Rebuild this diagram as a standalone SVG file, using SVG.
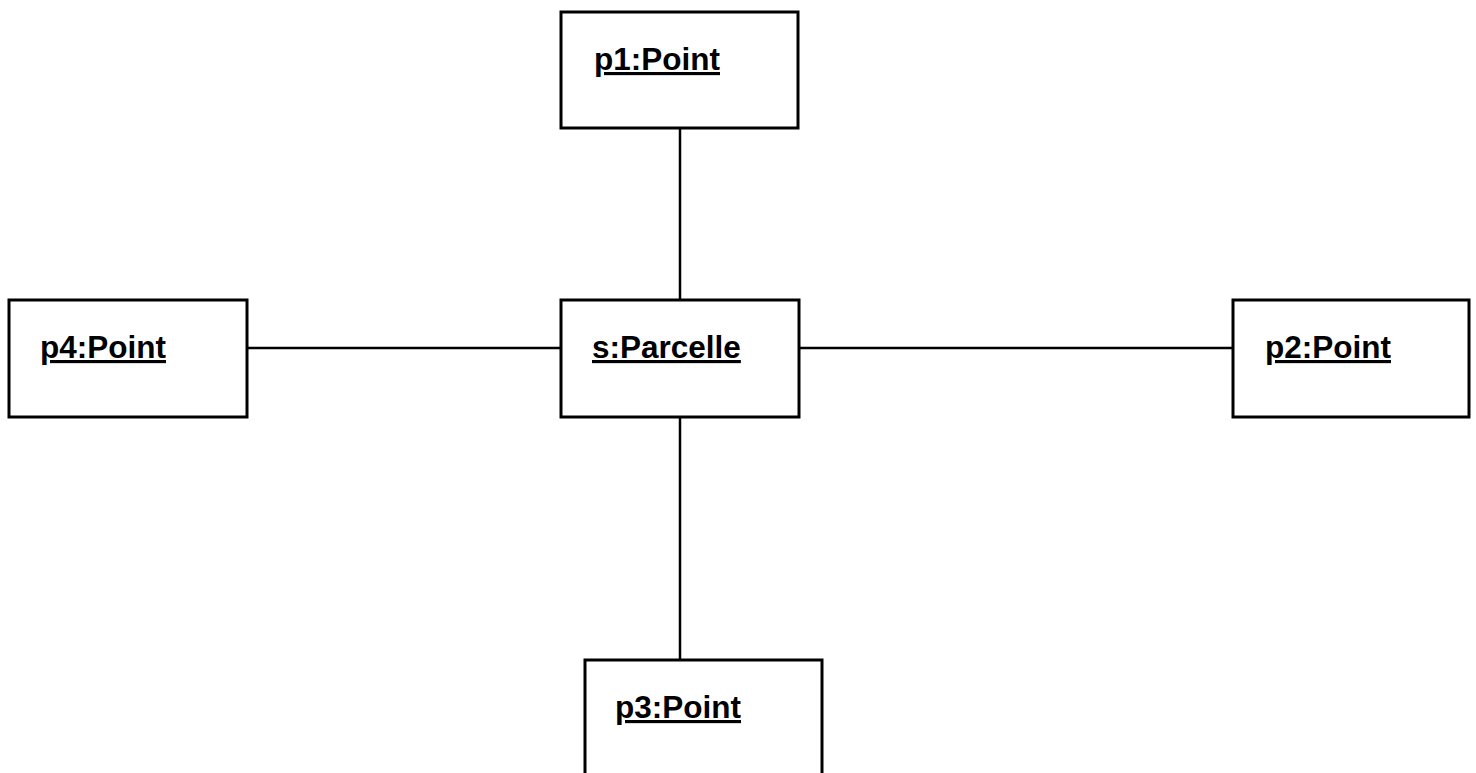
<svg xmlns="http://www.w3.org/2000/svg" width="1476" height="773" viewBox="0 0 1476 773">
  <style>
    .box { fill: #ffffff; stroke: #000000; stroke-width: 3; }
    .link { stroke: #000000; stroke-width: 2.5; fill: none; }
    .label { font-family: "Liberation Sans", Arial, sans-serif; font-weight: bold; font-size: 31.5px; fill: #000000; text-decoration: underline; }
  </style>
  <rect width="1476" height="773" fill="#ffffff"/>
  <g id="connectors">
    <line class="link" x1="680" y1="128" x2="680" y2="300"/>
    <line class="link" x1="680" y1="417" x2="680" y2="660"/>
    <line class="link" x1="247" y1="348" x2="561" y2="348"/>
    <line class="link" x1="799" y1="348" x2="1233" y2="348"/>
  </g>
  <g id="p1">
    <rect class="box" x="561" y="12" width="237" height="116"/>
    <text class="label" x="594" y="70">p1:Point</text>
  </g>
  <g id="p4">
    <rect class="box" x="9" y="300" width="238" height="117"/>
    <text class="label" x="40" y="358">p4:Point</text>
  </g>
  <g id="s">
    <rect class="box" x="561" y="300" width="238" height="117"/>
    <text class="label" x="592" y="358">s:Parcelle</text>
  </g>
  <g id="p2">
    <rect class="box" x="1233" y="300" width="236" height="117"/>
    <text class="label" x="1265" y="358">p2:Point</text>
  </g>
  <g id="p3">
    <rect class="box" x="585" y="660" width="237" height="130"/>
    <text class="label" x="615" y="718">p3:Point</text>
  </g>
</svg>
